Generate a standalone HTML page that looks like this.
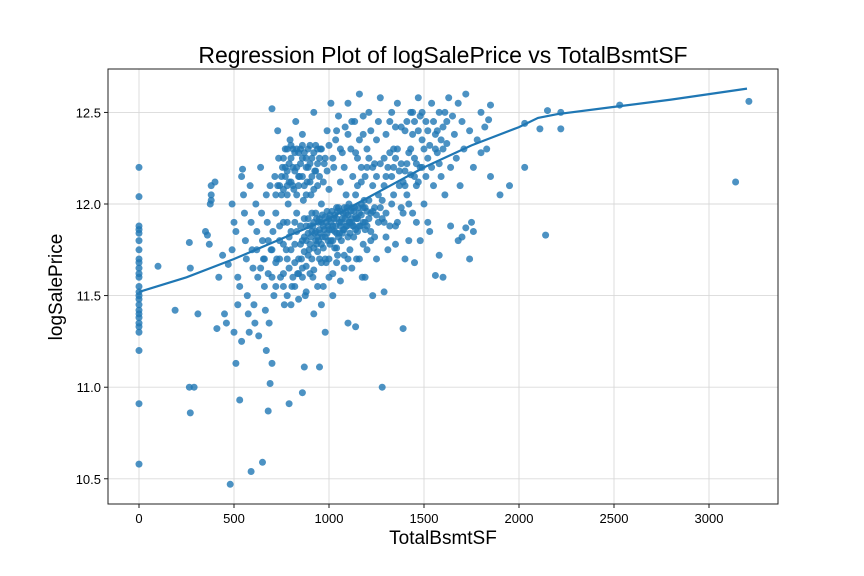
<!DOCTYPE html>
<html><head><meta charset="utf-8"><style>
html,body{margin:0;padding:0;background:#fff;}
svg{display:block;font-family:"Liberation Sans","DejaVu Sans",sans-serif;}
</style></head><body>
<svg id="chart" width="864" height="576" viewBox="0 0 864 576" xmlns="http://www.w3.org/2000/svg">
<rect width="864" height="576" fill="#fff"/>
<text x="443" y="63" font-size="23" text-anchor="middle" fill="#000">Regression Plot of logSalePrice vs TotalBsmtSF</text>
<g id="grid"></g>
<g id="points"></g>
<g id="line"></g>
<g id="axes"></g>
<text x="443" y="544" font-size="19" text-anchor="middle">TotalBsmtSF</text>
<text transform="translate(62,287) rotate(-90)" font-size="19" text-anchor="middle">logSalePrice</text>
</svg>
<script>
const xTicks=[0,500,1000,1500,2000,2500,3000];
const yTicks=[10.5,11.0,11.5,12.0,12.5];
const yTickLabels=["10.5","11.0","11.5","12.0","12.5"];
const fitX=[0,250,500,750,1000,1250,1500,1750,2000,2100,2200,2500,2800,3200];
const fitY=[11.52,11.6,11.7,11.81,11.92,12.06,12.2,12.32,12.42,12.47,12.49,12.53,12.57,12.63];
const scatterPoints=[
[0,12.2],[0,12.04],[0,11.88],[0,11.86],[0,11.84],[0,11.8],[0,11.75],[0,11.7],[0,11.68],[0,11.65],[0,11.62],[0,11.6],[0,11.55],[0,11.52],[0,11.5],[0,11.48],[0,11.45],[0,11.42],[0,11.4],[0,11.38],[0,11.35],[0,11.33],[0,11.3],[0,11.2],[0,10.91],[0,10.58],
[100,11.66],[190,11.42],[265,11.79],[270,11.65],[265,11.0],[290,11.0],[270,10.86],[310,11.4],[350,11.85],[360,11.83],[370,11.78],[380,12.1],[380,12.05],[380,12.02],[375,12.0],[400,12.12],[410,11.32],[420,11.6],[440,11.72],[450,11.4],[460,11.35],[470,11.67],[480,10.47],[490,11.75],[500,11.3],[510,11.13],[520,11.45],[530,10.93],[540,11.25],[590,10.54],[650,10.59],[680,10.87],[700,11.13],[690,11.02],[670,11.2],[790,10.91],[870,11.11],[860,10.97],[950,11.11],[1280,11.0],[1390,11.32],[1100,11.35],[1140,11.33],[1190,11.6],[1230,11.5],[1290,11.52],
[2030,12.44],[2110,12.41],[2150,12.51],[2220,12.5],[2220,12.41],[2530,12.54],[3210,12.56],[3140,12.12],[2140,11.83],[2030,12.2],[1950,12.1],[1900,12.05],[1850,12.15],[1830,12.3],[1800,12.28],[1840,12.46],[1750,11.9],[1760,11.85],[1700,11.82],[1720,11.87],[1680,11.8],[1740,11.7],[1600,11.6],[1560,11.61],[1580,11.72],[1640,11.88],
[490,12.0],[500,11.9],[510,11.85],[520,11.6],[530,11.55],[540,12.15],[545,12.19],[550,12.05],[555,11.95],[560,11.8],[565,11.7],[570,11.5],[575,11.4],[580,11.3],[585,12.1],[590,11.9],[595,11.75],[600,11.65],[605,11.45],[610,11.35],[615,12.0],[620,11.85],[625,11.6],[630,11.28],[640,12.2],[645,11.95],[650,11.8],[655,11.7],[660,11.55],[665,11.42],[670,12.05],[675,11.9],[680,11.62],[685,11.35],[690,12.1],[695,11.75],[700,12.52],[705,11.85],[710,11.5],[715,12.15],[720,11.95],[725,11.7],[730,12.4],[735,12.25],[740,11.8],[745,11.6],[750,12.05],[755,12.2],[760,11.9],[765,11.45],[770,12.3],[775,11.75],[780,12.1],[785,12.0],[790,11.65],[795,12.35],[800,11.85],[805,11.55],[810,12.2],[815,12.08],[820,11.78],[825,12.45],[830,11.95],[835,11.62],[840,12.28],[845,12.15],[850,11.88],[855,11.7],[860,12.38],[865,12.02],[870,11.82],[875,11.5],[880,12.25],[885,12.12],[890,11.92],[895,11.75],[900,12.32],[905,12.05],[910,11.85],[915,11.6],[920,12.5],[925,12.18],[930,11.95],[935,11.78],[940,12.1],[945,11.9],[950,11.7],[955,12.3],[960,12.0],[965,11.82],[970,11.55],[975,12.22],[980,11.93],[985,11.68],[990,12.4],[995,11.88],[1000,12.08],[1005,11.78],[1010,12.55],[1015,11.96],[1020,11.62],[1025,12.2],[1030,11.85],[1035,12.35],[1040,11.98],[1045,11.72],[1050,12.48],[1055,11.9],[1060,12.12],[1065,11.8],[1070,12.28],[1075,11.95],[1080,11.65],[1085,12.42],[1090,12.05],[1095,11.88],[1100,12.55],[1105,12.0],[1110,11.75],[1115,12.3],[1120,11.92],[1125,12.15],[1130,11.82],[1135,12.45],[1140,12.05],[1145,11.7],[1150,12.25],[1155,11.98],[1160,12.6],[1165,11.88],[1170,12.12],[1175,11.6],[1180,12.38],[1185,12.02],[1190,11.9],[1200,12.2],[1210,12.5],[1220,11.95],[1230,12.1],[1240,11.82],[1250,12.35],[1260,12.05],[1270,12.58],[1280,11.92],[1290,12.25],[1300,12.15],[1310,11.75],[1320,12.45],[1330,12.0],[1340,12.3],[1350,11.88],[1360,12.55],[1370,12.1],[1380,12.22],[1390,11.95],[1400,12.4],[1410,12.05],[1420,11.8],[1430,12.3],[1440,12.5],[1450,12.15],[1460,11.9],[1470,12.58],[1480,12.2],[1490,12.35],[1500,12.0],[1510,12.45],[1520,12.25],[1530,11.85],[1540,12.55],[1550,12.1],[1560,12.38],[1570,12.28],[1580,12.5],[1590,12.15],[1600,12.42],[1610,12.05],[1620,12.33],[1630,12.58],[1640,12.2],[1650,12.48],[1660,12.38],[1670,12.25],[1680,12.55],[1690,12.1],[1700,12.45],[1710,12.3],[1720,12.6],[1740,12.4],[1760,12.2],[1780,12.35],[1800,12.5],[1820,12.42],[1850,12.54],
[780,11.7],[790,11.82],[800,11.75],[810,11.6],[820,11.9],[830,11.85],[840,11.7],[850,11.78],[860,11.65],[870,11.92],[880,11.8],[890,11.72],[900,11.88],[910,11.95],[920,11.76],[930,11.85],[940,11.82],[950,11.92],[960,11.78],[970,11.88],[980,11.82],[990,11.96],[1000,11.86],[1010,11.9],[1020,11.8],[1030,11.94],[1040,11.84],[1050,11.98],[1060,11.88],[1070,11.92],[1080,11.86],[1090,11.95],[1100,11.82],[1110,11.9],[1120,11.98],[1130,11.88],[1140,11.93],[1150,11.85],[1160,11.95],[1170,12.0],[1180,11.9],[1190,11.98],[1200,11.88],[1210,12.02],[1220,11.85],[1240,11.98],[1260,11.9],[1280,12.02],[1300,11.95],[1320,11.88],[1340,12.05],[1360,11.9],[1380,11.98],[1400,12.1],[1420,12.0],[1440,11.95],[1460,12.1],
[760,12.25],[770,12.15],[780,12.05],[790,12.22],[800,12.12],[810,12.3],[820,12.18],[830,12.05],[840,12.1],[850,12.22],[860,12.15],[870,12.28],[880,12.05],[890,12.2],[900,12.12],[910,12.25],[920,12.08],[930,12.32],[940,12.22],[950,12.15],[960,12.3],[970,12.12],[980,12.25],[990,12.18],[1000,12.32],[1020,12.25],[1040,12.4],[1060,12.3],[1080,12.2],[1100,12.38],[1120,12.45],[1140,12.28],[1160,12.35],[1180,12.48],[1200,12.3],[1220,12.4],[1240,12.22],[1260,12.45],[1300,12.38],[1320,12.28],[1340,12.2],[1360,12.3],[1380,12.42],[1400,12.18],[1420,12.28],[1440,12.38],[1460,12.22],[1480,12.48],[1500,12.3],[1520,12.4],[1540,12.2],[1560,12.3],[1580,12.22],[1600,12.3],[1620,12.45],
[700,11.6],[720,11.55],[740,11.7],[760,11.62],[780,11.5],[800,11.45],[820,11.55],[840,11.48],[860,11.6],[880,11.52],[900,11.62],[920,11.4],[940,11.55],[960,11.45],[980,11.3],[1000,11.6],[1020,11.5],[1040,11.68],[1060,11.58],[1080,11.72],[1120,11.65],[1160,11.7],[1200,11.75],[1250,11.7],[1300,11.82],[1350,11.78],[1400,11.7],[1450,11.68],[1480,11.8],[1520,11.9],
[860,11.8],[870,11.74],[880,11.88],[890,11.84],[900,11.78],[910,11.7],[920,11.9],[930,11.8],[940,11.74],[950,11.86],[960,11.9],[970,11.76],[980,11.7],[990,11.84],[1000,11.92],[1010,11.8],[1020,11.88],[1030,11.76],[1040,11.92],[1050,11.82],[1060,11.96],[1070,11.84],[1080,11.98],[1090,11.88],[1100,11.94],[1110,11.84],[1120,11.9],[1130,11.96],[1140,11.86],[1150,11.92],[1160,11.88],[1170,11.94],[1180,11.98],[1190,11.86],[1200,11.96],[1210,11.92],[1230,11.96],[1250,11.94],[1270,11.98],[1290,11.9],
[905,11.82],[915,11.88],[925,11.84],[935,11.92],[945,11.8],[955,11.84],[965,11.94],[975,11.86],[985,11.9],[995,11.8],[1005,11.94],[1015,11.86],[1025,11.92],[1035,11.88],[1045,11.96],[1055,11.84],[1065,11.9],[1075,11.86],[1085,11.92],[1095,11.98],[1105,11.9],[1115,11.96],[1125,11.88],[1135,11.98],[1145,11.92],
[740,12.1],[750,12.15],[760,12.08],[770,12.2],[780,12.18],[790,12.12],[800,12.25],[810,12.1],[820,12.28],[830,12.2],[840,12.15],[850,12.3],[860,12.25],[870,12.1],[880,12.2],[890,12.3],[900,12.22],[910,12.15],[920,12.28],[930,12.18],[940,12.3],[950,12.25],[720,12.05],[730,12.1],[780,12.3],[800,12.32],[830,12.3],[860,12.32],
[1150,12.1],[1170,12.2],[1190,12.15],[1210,12.25],[1230,12.2],[1250,12.15],[1270,12.22],[1290,12.1],[1310,12.2],[1330,12.15],[1350,12.25],[1370,12.18],[1390,12.12],[1410,12.22],[1430,12.16],[1450,12.25],[1470,12.12],[1490,12.2],[1510,12.15],[1530,12.32],[1550,12.45],[1570,12.4],[1590,12.35],[1610,12.5],[1450,12.45],[1470,12.4],[1490,12.5],[1430,12.5],[1410,12.45],[1350,12.42],[1330,12.5],
[660,11.7],[680,11.8],[700,11.75],[720,11.68],[740,11.88],[760,11.78],[780,11.9],[640,11.65],[620,11.75],[760,11.55],[820,11.68],[840,11.62],[880,11.66],[920,11.64],[960,11.68],[1000,11.7],[1040,11.76],[1100,11.7],[1180,11.78],[1220,11.8]
];
const X0=139,XS=95/500,Y0=204,YS=183.2;
const sx=v=>X0+v*XS, sy=v=>Y0-(v-12)*YS;
const L=108,R=778,T=69,B=504;
const NS='http://www.w3.org/2000/svg';
function mk(tag,attrs,parent){const e=document.createElementNS(NS,tag);for(const k in attrs)e.setAttribute(k,attrs[k]);parent.appendChild(e);return e;}
const grid=document.getElementById('grid'),axes=document.getElementById('axes'),pts=document.getElementById('points'),line=document.getElementById('line');
xTicks.forEach(t=>{const x=sx(t);
 const g=mk('line',{x1:x,x2:x,y1:T,y2:B,stroke:'#d9d9d9','stroke-width':0.9},grid);
 
 
 mk('line',{x1:x,x2:x,y1:B,y2:B+4,stroke:'#000','stroke-width':0.9},axes);
 const tx=mk('text',{x:x,y:B+19,'font-size':13,'text-anchor':'middle'},axes);tx.textContent=String(t);
 
 
});
yTicks.forEach((t,i)=>{const y=sy(t);
 const g=mk('line',{x1:L,x2:R,y1:y,y2:y,stroke:'#d9d9d9','stroke-width':0.9},grid);
 
 
 mk('line',{x1:L-4,x2:L,y1:y,y2:y,stroke:'#000','stroke-width':0.9},axes);
 const tx=mk('text',{x:L-7,y:y+5,'font-size':13,'text-anchor':'end'},axes);tx.textContent=yTickLabels[i];
 
 
});
const fr=mk('rect',{x:L,y:T,width:R-L,height:B-T,fill:'none',stroke:'#222','stroke-width':1},axes);


scatterPoints.forEach(p=>{const c=mk('circle',{cx:sx(p[0]),cy:sy(p[1]),r:3.5,fill:'#1f77b4','fill-opacity':0.8},pts);
 
 
});
const d=fitX.map((x,i)=>(i?'L':'M')+sx(x).toFixed(1)+','+sy(fitY[i]).toFixed(1)).join(' ');
const pl=mk('path',{d:d,fill:'none',stroke:'#1f77b4','stroke-width':2.2},line);


</script>
</body></html>
